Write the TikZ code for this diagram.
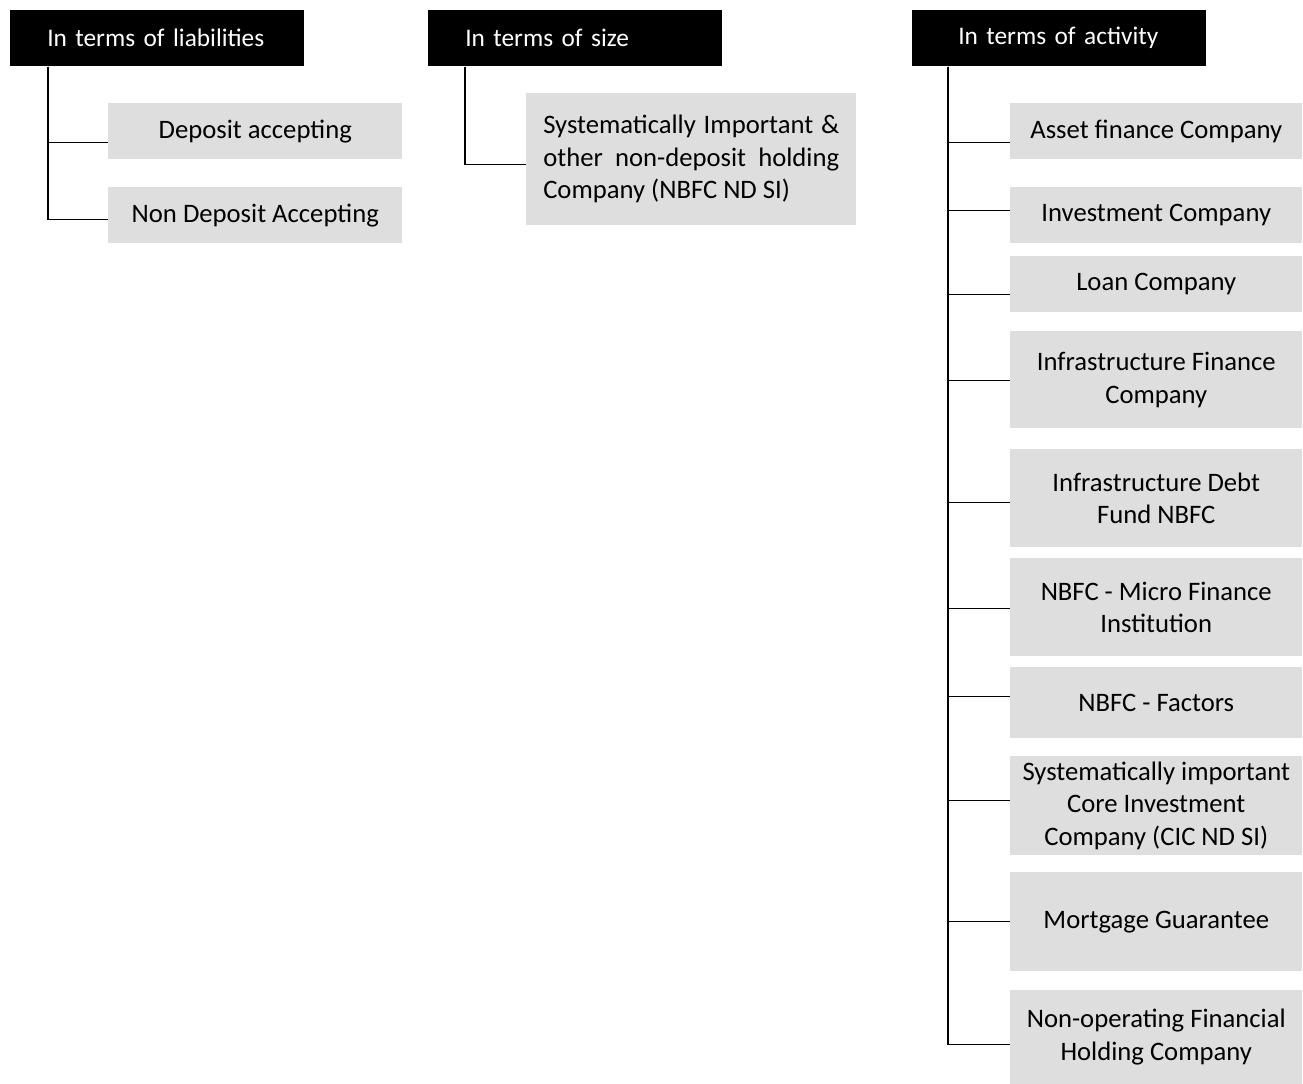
\documentclass[tikz,border=0pt]{standalone}
\usepackage{fontspec}
\setmainfont{Carlito}
\usetikzlibrary{calc}
\definecolor{leafgray}{RGB}{222,222,222}

\begin{document}
\begin{tikzpicture}[x=0.75pt, y=-0.75pt,
  head/.style={fill=black, text=white, inner sep=0pt, anchor=north west,
    minimum height=42pt, text width=220.5pt, align=left,
    execute at begin node={\hspace*{#1}},
    font=\fontsize{19}{23}\selectfont},
  head/.default=27.75pt,
  leaf/.style={fill=leafgray, inner sep=0pt, align=center, anchor=north west,
    font=\fontsize{20}{24.4}\selectfont},
  boxdim/.style 2 args={minimum width=#1*0.75pt, minimum height=#2*0.75pt},
  link/.style={line width=1pt}]
  \useasboundingbox (0,0) rectangle (1303,1084);

  % headers
  \node[head] (h1) at (10,10) {In terms of liabilities};
  \node[head] (h2) at (428,10) {In terms of size};
  \node[head=34.5pt] (h3) at (912,10) {In terms of activity};

  \coordinate (t1) at ($(h1.south west)+(38,0)$);
  \coordinate (t2) at ($(h2.south west)+(37,0)$);
  \coordinate (t3) at ($(h3.south west)+(36,0)$);

  % liabilities
  \node[leaf, boxdim={294}{56}] (d1) at (108,103) {Deposit accepting};
  \node[leaf, boxdim={294}{56}] (d2) at (108,187) {Non Deposit Accepting};

  % size
  \node[leaf, boxdim={330}{132}, text width=222pt, align=justify] (s1) at (526,93)
    {Systematically Important \&\linebreak other non-deposit holding\linebreak Company (NBFC ND SI)};

  % activity
  \node[leaf, boxdim={292}{56}] (a1) at (1010,103) {Asset finance Company};
  \node[leaf, boxdim={292}{56}] (a2) at (1010,187) {Investment Company};
  \node[leaf, boxdim={292}{56}] (a3) at (1010,256) {Loan Company};
  \node[leaf, boxdim={292}{97}] (a4) at (1010,331) {Infrastructure Finance\\Company};
  \node[leaf, boxdim={292}{98}] (a5) at (1010,449) {Infrastructure Debt\\Fund NBFC};
  \node[leaf, boxdim={292}{98}] (a6) at (1010,558) {NBFC - Micro Finance\\Institution};
  \node[leaf, boxdim={292}{71}] (a7) at (1010,667) {NBFC - Factors};
  \node[leaf, boxdim={292}{99}] (a8) at (1010,756) {Systematically important\\Core Investment\\Company (CIC ND SI)};
  \node[leaf, boxdim={292}{99}] (a9) at (1010,872) {Mortgage Guarantee};
  \node[leaf, boxdim={292}{94}] (a10) at (1010,990) {Non-operating Financial\\Holding Company};

  % connectors
  \draw[link] (t1) |- ($(d1.west)+(0,11)$);
  \draw[link] (t1) |- ($(d2.west)+(0,4)$);
  \draw[link] (t2) |- ($(s1.west)+(0,5)$);
  \foreach \n/\dy in {a1/11, a2/-5, a3/10, a4/0.5, a5/4, a6/1, a7/-6.5, a8/-5.5, a9/-0.5, a10/7}
    \draw[link] (t3) |- ($(\n.west)+(0,\dy)$);
\end{tikzpicture}
\end{document}
